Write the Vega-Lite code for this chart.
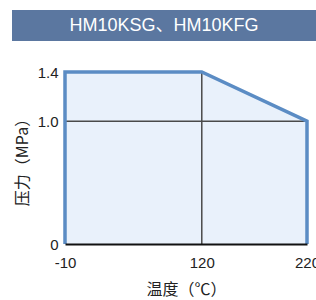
{
  "$schema": "https://vega.github.io/schema/vega-lite/v6.json",
  "background": "white",
  "padding": {"left": 12, "top": 10, "right": 0, "bottom": 0},
  "spacing": 24,
  "config": {"view": {"stroke": null}},
  "vconcat": [
    {
      "width": 242,
      "height": 31,
      "data": {"values": [{"label": "HM10KSG、HM10KFG", "start": 0, "end": 1, "mid": 0.5}]},
      "encoding": {
        "x": {"field": "start", "type": "quantitative", "scale": {"domain": [0, 1], "range": [-53, 251]}, "axis": null}
      },
      "layer": [
        {"mark": {"type": "rect", "color": "#5b77a0"}, "encoding": {"x2": {"field": "end"}}},
        {
          "mark": {"type": "text", "color": "white", "fontSize": 18, "font": "Liberation Sans, Noto Sans CJK SC", "align": "center", "baseline": "middle"},
          "encoding": {"x": {"field": "mid", "type": "quantitative"}, "text": {"field": "label"}}
        }
      ]
    },
    {
      "width": 242,
      "height": 172,
      "layer": [
        {
          "data": {"values": [{"t": -10, "p": 1.4}, {"t": 120, "p": 1.4}, {"t": 220, "p": 1.0}]},
          "mark": {"type": "area", "color": "#e9f1fb", "opacity": 1},
          "encoding": {
            "x": {"field": "t", "type": "quantitative", "scale": {"domain": [-10, 220], "nice": false, "zero": false},
              "axis": {"values": [-10, 120, 220], "labelExpr": "replace(datum.label, '−', '-')", "title": "温度（℃）", "titleFont": "Noto Sans CJK SC", "titleFontSize": 16, "titleFontWeight": "normal", "titleColor": "#222", "titlePadding": 11,
                "labelFont": "Liberation Sans", "labelFontSize": 15, "labelColor": "#222", "labelPadding": 11, "labelDx": -4, "labelFlush": false, "labelBound": false, "labelOverlap": false,
                "ticks": false, "grid": false, "domainColor": "#111", "domainWidth": 2, "zindex": 1}},
            "y": {"field": "p", "type": "quantitative", "scale": {"domain": [0, 1.4], "nice": false},
              "axis": {"values": [0, 1.0, 1.4], "labelExpr": "datum.value == 0 ? '0' : format(datum.value, '.1f')", "title": "压力（MPa）", "titleFont": "Noto Sans CJK SC", "titleFontSize": 16, "titleFontWeight": "normal", "titleColor": "#222", "titlePadding": 7,
                "labelFont": "Liberation Sans", "labelFontSize": 15, "labelColor": "#222", "labelPadding": 7, "labelFlush": false, "labelBound": false, "labelOverlap": false,
                "ticks": false, "grid": false, "domain": false}}
          }
        },
        {
          "data": {"values": [{"x": 120, "x2": 120, "y": 0, "y2": 1.4}, {"x": -10, "x2": 220, "y": 1.0, "y2": 1.0}]},
          "mark": {"type": "rule", "color": "#4a4a4a", "strokeWidth": 1.5},
          "encoding": {
            "x": {"field": "x", "type": "quantitative"},
            "x2": {"field": "x2"},
            "y": {"field": "y", "type": "quantitative"},
            "y2": {"field": "y2"}
          }
        },
        {
          "data": {"values": [{"t": -10, "p": 0, "o": 1}, {"t": -10, "p": 1.4, "o": 2}, {"t": 120, "p": 1.4, "o": 3}, {"t": 220, "p": 1.0, "o": 4}, {"t": 220, "p": 0, "o": 5}]},
          "mark": {"type": "line", "color": "#5b8cc4", "strokeWidth": 3.5, "strokeJoin": "miter"},
          "encoding": {
            "x": {"field": "t", "type": "quantitative"},
            "y": {"field": "p", "type": "quantitative"},
            "order": {"field": "o"}
          }
        }
      ]
    }
  ]
}
